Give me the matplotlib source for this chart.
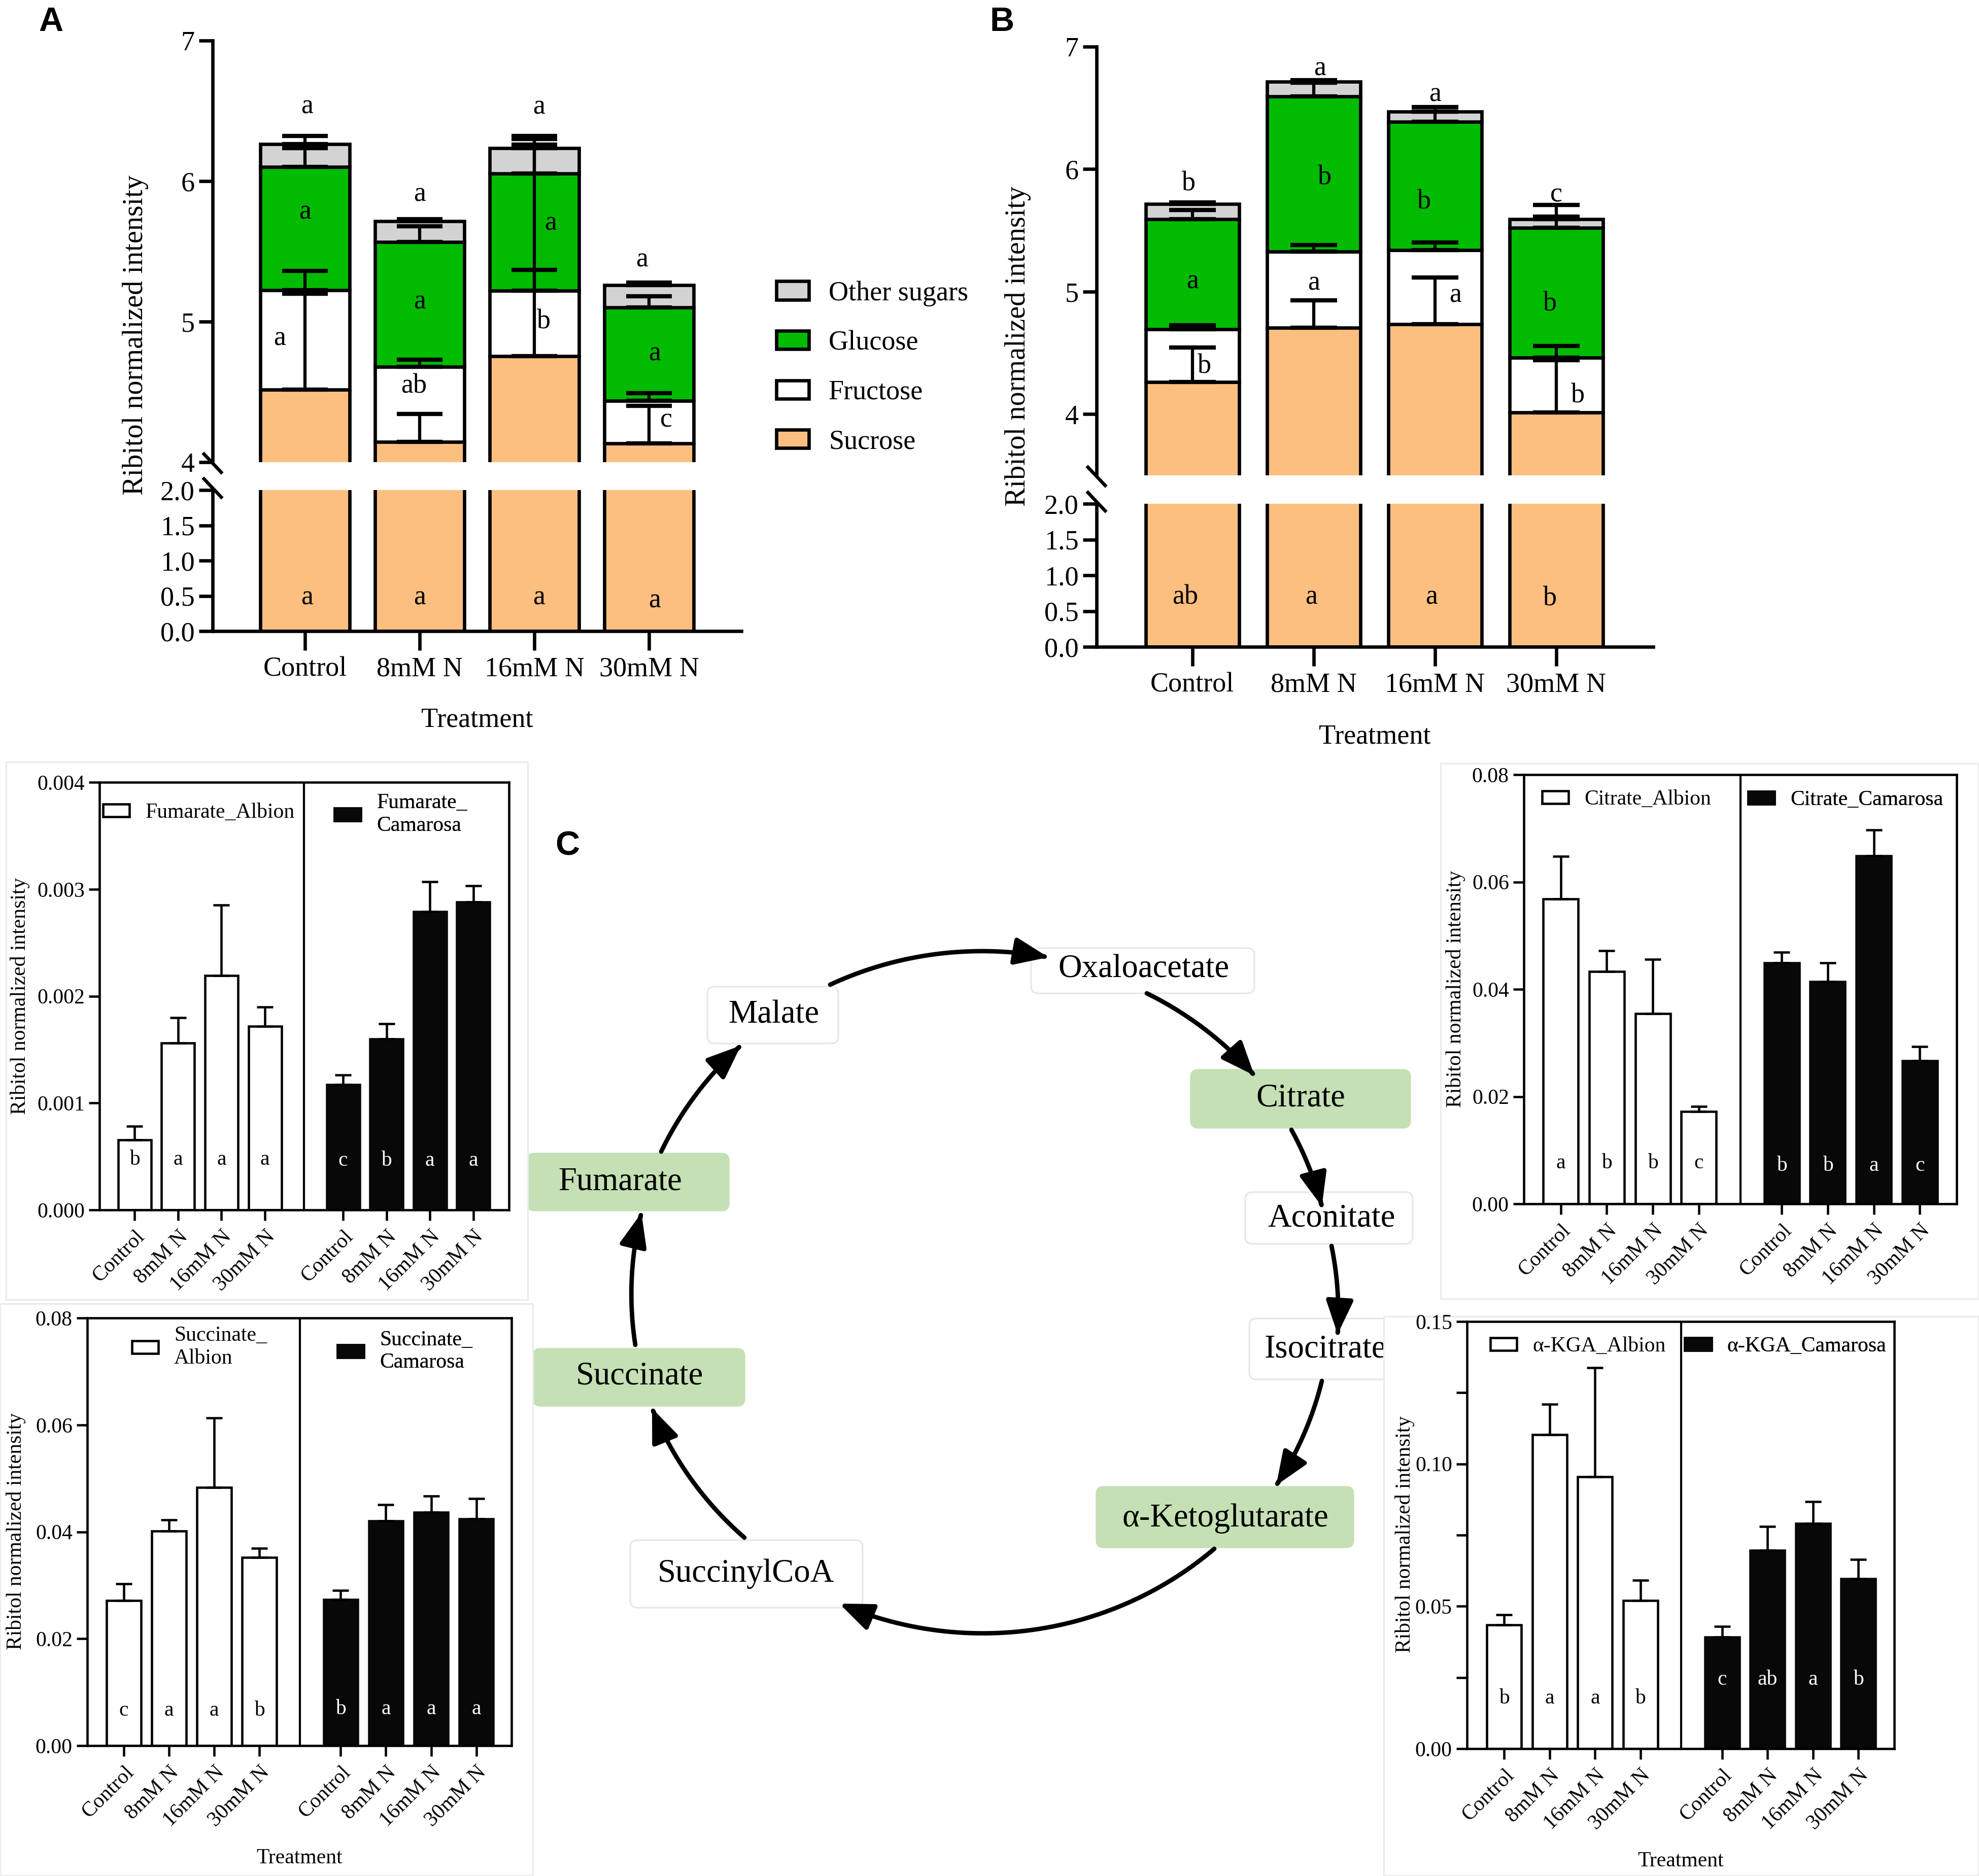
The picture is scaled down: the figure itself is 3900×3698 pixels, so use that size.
import numpy as np
import matplotlib.pyplot as plt
from matplotlib.patches import FancyBboxPatch, FancyArrowPatch, Rectangle, Patch
from matplotlib.path import Path

plt.rcParams['font.family'] = ['Liberation Serif', 'DejaVu Serif']

W, H = 3900, 3698
fig = plt.figure(figsize=(W / 300, H / 300), dpi=300)


def px(x0, y0, x1, y1):
    # pixel box (origin top-left) -> figure rect
    return [x0 / W, 1 - y1 / H, (x1 - x0) / W, (y1 - y0) / H]


treatments = ['Control', '8mM N', '16mM N', '30mM N']
sugar_names = ['Sucrose', 'Fructose', 'Glucose', 'Other sugars']
sugar_colors = ['#fdbf80', 'white', '#00bb00', '#d3d3d3']

# ---- Panel A: segment heights (stacked) and upward SD ----
a_sucrose = [4.516, 4.143, 4.755, 4.133]
a_fructose = [0.709, 0.536, 0.466, 0.304]
a_glucose = [0.875, 0.887, 0.833, 0.663]
a_other = [0.164, 0.149, 0.181, 0.159]
a_sucrose_err = [0.684, 0.20, 0.615, 0.267]
a_fructose_err = [0.135, 0.05, 1.04, 0.053]
a_glucose_err = [0.133, 0.114, 0.246, 0.08]
a_other_err = [0.056, 0.015, 0.085, 0.02]
a_top_let = ['a', 'a', 'a', 'a']
a_glu_let = ['a', 'a', 'a', 'a']
a_fru_let = ['a', 'ab', 'b', 'c']
a_suc_let = ['a', 'a', 'a', 'a']

# ---- Panel B ----
b_sucrose = [4.261, 4.706, 4.735, 4.012]
b_fructose = [0.433, 0.621, 0.604, 0.449]
b_glucose = [0.898, 1.269, 1.049, 1.061]
b_other = [0.122, 0.118, 0.081, 0.070]
b_sucrose_err = [0.282, 0.224, 0.379, 0.428]
b_fructose_err = [0.033, 0.053, 0.061, 0.094]
b_glucose_err = [0.073, 0.11, 0.08, 0.09]
b_other_err = [0.016, 0.013, 0.04, 0.114]
b_top_let = ['b', 'a', 'a', 'c']
b_glu_let = ['a', 'b', 'b', 'b']
b_fru_let = ['b', 'a', 'a', 'b']
b_suc_let = ['ab', 'a', 'a', 'b']

# ---- Panel C bar charts ----
fum_albion = [0.000656, 0.00156, 0.00219, 0.00172]
fum_albion_err = [0.000126, 0.00024, 0.00066, 0.00018]
fum_camarosa = [0.00117, 0.0016, 0.00279, 0.00288]
fum_camarosa_err = [0.00009, 0.00014, 0.00028, 0.00015]
fum_albion_let = ['b', 'a', 'a', 'a']
fum_camarosa_let = ['c', 'b', 'a', 'a']

cit_albion = [0.0568, 0.0433, 0.0355, 0.0172]
cit_albion_err = [0.008, 0.0039, 0.0101, 0.001]
cit_camarosa = [0.0449, 0.0414, 0.0649, 0.0267]
cit_camarosa_err = [0.002, 0.0035, 0.0048, 0.0026]
cit_albion_let = ['a', 'b', 'b', 'c']
cit_camarosa_let = ['b', 'b', 'a', 'c']

suc_albion = [0.0271, 0.0401, 0.0483, 0.0352]
suc_albion_err = [0.0032, 0.0021, 0.013, 0.0017]
suc_camarosa = [0.0273, 0.042, 0.0437, 0.0424]
suc_camarosa_err = [0.0017, 0.0031, 0.003, 0.0038]
suc_albion_let = ['c', 'a', 'a', 'b']
suc_camarosa_let = ['b', 'a', 'a', 'a']

kga_albion = [0.0434, 0.1103, 0.0954, 0.0521]
kga_albion_err = [0.0036, 0.0106, 0.0384, 0.007]
kga_camarosa = [0.0392, 0.0696, 0.0791, 0.0597]
kga_camarosa_err = [0.0038, 0.0085, 0.0077, 0.0067]
kga_albion_let = ['b', 'a', 'a', 'b']
kga_camarosa_let = ['c', 'ab', 'a', 'b']

# TCA cycle nodes
tca_nodes = ['Oxaloacetate', 'Citrate', 'Aconitate', 'Isocitrate', 'α-Ketoglutarate',
             'SuccinylCoA', 'Succinate', 'Fumarate', 'Malate']
tca_measured = [False, True, False, False, True, False, True, True, False]

# ------------------------------------------------------------------
# background layer (diagram, panel letters)
dax = fig.add_axes([0, 0, 1, 1])
dax.set_xlim(0, W)
dax.set_ylim(H, 0)
dax.axis('off')

node_boxes = [(2032, 1869, 2472, 1958), (2347, 2109, 2779, 2223), (2454, 2350, 2784, 2452),
              (2462, 2599, 2790, 2719), (2161, 2931, 2667, 3050), (1242, 3036, 1700, 3169),
              (1051, 2659, 1467, 2771), (1039, 2274, 1436, 2386), (1394, 1945, 1652, 2057)]
node_text = [(2254, 1911), (2563, 2165), (2624, 2402), (2612, 2660), (2415, 2993),
             (1470, 3102), (1260, 2713), (1222, 2330), (1525, 2001)]
for name, hl, (x0, y0, x1, y1), (tx, ty) in zip(tca_nodes, tca_measured, node_boxes, node_text):
    dax.add_patch(FancyBboxPatch((x0, y0), x1 - x0, y1 - y0,
                                 boxstyle='round,pad=0,rounding_size=14',
                                 facecolor='#c5e0b4' if hl else 'white',
                                 edgecolor='#c5e0b4' if hl else '#e8e8e8', linewidth=0.8, zorder=2))
    dax.text(tx, ty, name, ha='center', va='center', fontsize=15.5, zorder=3)

# cycle arrows along an ellipse
cx, cy, rx, ry = 1939, 2547, 690, 670
arcs = [((1636, 1941), (2066, 1887)), ((2260, 1958), (2472, 2120)), ((2545, 2227), (2605, 2378)),
        ((2624, 2456), (2636, 2630)), ((2605, 2722), (2515, 2928)), ((2393, 3053), (1654, 3161)),
        ((1467, 3031), (1285, 2776)), ((1252, 2651), (1264, 2391)), ((1303, 2270), (1460, 2061))]
for (xs, ys), (xe, ye) in arcs:
    t0 = np.arctan2((ys - cy) / ry, (xs - cx) / rx)
    t1 = np.arctan2((ye - cy) / ry, (xe - cx) / rx)
    if t1 < t0:
        t1 += 2 * np.pi
    r0 = np.hypot((xs - cx) / rx, (ys - cy) / ry)
    r1 = np.hypot((xe - cx) / rx, (ye - cy) / ry)
    t = np.linspace(t0, t1, 60)
    r = np.linspace(r0, r1, 60)
    verts = np.column_stack([cx + r * rx * np.cos(t), cy + r * ry * np.sin(t)])
    dax.add_patch(FancyArrowPatch(path=Path(verts), arrowstyle='-|>,head_length=0.42,head_width=0.17',
                                  mutation_scale=32, color='black', linewidth=2.1, zorder=2))

# small-panel image regions (white, faint border)
for (x0, y0, x1, y1) in [(12, 1502, 1040, 2562), (2839, 1505, 3899, 2560),
                         (0, 2570, 1050, 3697), (2727, 2595, 3899, 3697)]:
    dax.add_patch(Rectangle((x0, y0), x1 - x0, y1 - y0, facecolor='white',
                            edgecolor='#ececec', linewidth=0.8, zorder=4))

for lab, (lx, ly) in zip(['A', 'B', 'C'], [(100, 44), (1975, 44), (1118, 1668)]):
    dax.text(lx, ly, lab, ha='center', va='center', fontsize=16, fontweight='bold',
             family='Liberation Sans', zorder=5)


# ------------------------------------------------------------------
def sugar_panel(up_px, lo_px, segs, errs, up_lim, xl, width, cap, lets, let_pos, break_px, ylab_px):
    ax_up = fig.add_axes(px(*up_px))
    ax_lo = fig.add_axes(px(*lo_px))
    x = np.arange(4)
    for ax in (ax_up, ax_lo):
        ax.set_facecolor('none')
        bottom = np.zeros(4)
        for vals, col, name in zip(segs, sugar_colors, sugar_names):
            ax.bar(x, vals, width, bottom=bottom, color=col, edgecolor='black',
                   linewidth=1.6, label=name, zorder=2)
            bottom = bottom + np.asarray(vals)
        bottom = np.zeros(4)
        for vals, err in zip(segs, errs):
            top = bottom + np.asarray(vals)
            ax.errorbar(x, top, yerr=[np.zeros(4), err], fmt='none', ecolor='black',
                        elinewidth=1.5, capsize=cap, capthick=2.0, zorder=3)
            bottom = top
        ax.set_xlim(*xl)
        ax.spines[['top', 'right']].set_visible(False)
        for s in ax.spines.values():
            s.set_linewidth(1.6)
        ax.tick_params(axis='y', direction='out', length=6.5, width=1.6, labelsize=13, pad=2)
    ax_up.set_ylim(*up_lim)
    ax_up.spines['bottom'].set_visible(False)
    ax_up.tick_params(axis='x', bottom=False, labelbottom=False)
    ticks = list(range(4, 8))
    ax_up.set_yticks(ticks, labels=[str(v) for v in ticks])
    ax_lo.set_ylim(0, 2)
    lo_ticks = [0, 0.5, 1.0, 1.5, 2.0]
    ax_lo.set_yticks(lo_ticks, labels=['%.1f' % v for v in lo_ticks])
    ax_lo.set_xticks(x, labels=treatments)
    ax_lo.tick_params(axis='x', direction='out', length=9, width=1.6, labelsize=13, pad=3)
    ax_lo.set_xlabel('Treatment', fontsize=13)
    ax_lo.xaxis.set_label_coords(0.5, -0.54)

    # significance letters
    for group, (axx, pos) in zip(lets, zip([ax_up, ax_up, ax_up, ax_lo], let_pos)):
        for i, (let, (dx, yy)) in enumerate(zip(group, pos)):
            axx.text(i + dx, yy, let, ha='center', va='center', fontsize=13, zorder=4)

    # axis break marks
    bx, by0, by1 = break_px
    for yy in (by0, by1):
        dax.plot([bx - 17, bx + 17], [yy - 18, yy + 18], color='black', lw=1.6, zorder=6)
    fig.text(ylab_px[0] / W, 1 - ylab_px[1] / H, 'Ribitol normalized intensity',
             rotation=90, ha='center', va='center', fontsize=13.5)
    return ax_up, ax_lo


a_segs = [a_sucrose, a_fructose, a_glucose, a_other]
a_errs = [a_sucrose_err, a_fructose_err, a_glucose_err, a_other_err]
a_let_pos = [[(0.02, 6.53), (0, 5.905), (0.04, 6.527), (-0.06, 5.44)],
             [(0, 5.78), (0, 5.14), (0.14, 5.70), (0.05, 4.77)],
             [(-0.22, 4.88), (-0.05, 4.54), (0.08, 5.0), (0.15, 4.30)],
             [(0.02, 0.47), (0, 0.47), (0.04, 0.47), (0.05, 0.43)]]
ax_a_up, ax_a_lo = sugar_panel((419, 80, 1461, 911), (419, 966, 1461, 1244), a_segs, a_errs,
                               (4, 7), (-0.805, 3.805), 0.78, 10.8,
                               [a_top_let, a_glu_let, a_fru_let, a_suc_let], a_let_pos,
                               (419, 913, 962), (267, 660))

b_segs = [b_sucrose, b_fructose, b_glucose, b_other]
b_errs = [b_sucrose_err, b_fructose_err, b_glucose_err, b_other_err]
b_let_pos = [[(-0.03, 5.88), (0.05, 6.82), (0, 6.61), (0, 5.79)],
             [(0, 5.08), (0.09, 5.93), (-0.09, 5.73), (-0.05, 4.90)],
             [(0.10, 4.39), (0, 5.07), (0.17, 4.97), (0.18, 4.15)],
             [(-0.06, 0.69), (-0.02, 0.69), (-0.03, 0.69), (-0.05, 0.67)]]
ax_b_up, ax_b_lo = sugar_panel((2161, 92, 3258, 937), (2161, 993, 3258, 1275), b_segs, b_errs,
                               (3.5, 7), (-0.79, 3.80), 0.77, 11,
                               [b_top_let, b_glu_let, b_fru_let, b_suc_let], b_let_pos,
                               (2161, 939, 989), (2006, 682))

leg_handles = [Patch(facecolor=c, edgecolor='black', linewidth=1.6, label=n)
               for n, c in zip(sugar_names[::-1], sugar_colors[::-1])]
ax_a_up.legend(handles=leg_handles, loc='upper left', bbox_to_anchor=(1530 / W, 1 - 553 / H),
               bbox_transform=fig.transFigure, frameon=False, fontsize=13,
               handlelength=1.18, handleheight=0.65, handletextpad=0.72,
               labelspacing=0.87, borderpad=0, borderaxespad=0)


# ------------------------------------------------------------------
def tca_panel(box_px, alb, alb_err, cam, cam_err, alb_let, cam_let, labels, yticks, fmt,
              xl, let_y, leg_pos, ylab_px, xlabel=False, minor=None, cap=3.8):
    ax = fig.add_axes(px(*box_px))
    ax.set_facecolor('none')
    xa = np.arange(4)
    xc = xa + 4.8
    b1 = ax.bar(xa, alb, 0.76, color='white', edgecolor='black', linewidth=1.1,
                label=labels[0], zorder=2)
    b2 = ax.bar(xc, cam, 0.76, color='#080808', edgecolor='#080808', linewidth=1.1,
                label=labels[1], zorder=2)
    ax.errorbar(xa, alb, yerr=[np.zeros(4), alb_err], fmt='none', ecolor='black',
                elinewidth=1.1, capsize=cap, capthick=1.1, zorder=3)
    ax.errorbar(xc, cam, yerr=[np.zeros(4), cam_err], fmt='none', ecolor='black',
                elinewidth=1.1, capsize=cap, capthick=1.1, zorder=3)
    ax.axvline(3.9, color='black', lw=1.0, zorder=1)
    for i in range(4):
        ax.text(xa[i], let_y[0], alb_let[i], ha='center', va='center', fontsize=10, zorder=4)
        ax.text(xc[i], let_y[1], cam_let[i], ha='center', va='center', fontsize=10,
                color='white', zorder=4)
    ax.set_xlim(*xl)
    ax.set_ylim(yticks[0], yticks[-1])
    ax.set_yticks(yticks, labels=[fmt % v for v in yticks])
    if minor is not None:
        ax.set_yticks(minor, minor=True)
    ax.set_xticks(np.r_[xa, xc], labels=treatments * 2, rotation=45, ha='right',
                  rotation_mode='anchor')
    for s in ax.spines.values():
        s.set_linewidth(1.1)
    ax.tick_params(which='both', direction='out', length=5, width=1.1, labelsize=10, pad=2)
    ax.tick_params(axis='x', pad=3)
    for h, pos in zip([b1, b2], leg_pos):
        leg = ax.legend(handles=[h], loc='center left', bbox_to_anchor=pos, frameon=False,
                        fontsize=10, handlelength=1.25, handleheight=0.55, handletextpad=0.75,
                        borderpad=0, borderaxespad=0)
        ax.add_artist(leg)
    if xlabel:
        ax.set_xlabel('Treatment', fontsize=10)
        ax.xaxis.set_label_coords(0.5, -0.24)
    fig.text(ylab_px[0] / W, 1 - ylab_px[1] / H, 'Ribitol normalized intensity',
             rotation=90, ha='center', va='center', fontsize=10)
    return ax


tca_panel((196, 1542, 1003, 2385), fum_albion, fum_albion_err, fum_camarosa, fum_camarosa_err,
          fum_albion_let, fum_camarosa_let, ['Fumarate_Albion', 'Fumarate_\nCamarosa'],
          [0, 0.001, 0.002, 0.003, 0.004], '%.3f', (-0.81, 8.62), (0.00047, 0.00046),
          [(0.009, 0.929), (0.574, 0.925)], (40, 1963))

tca_panel((3003, 1527, 3856, 2373), cit_albion, cit_albion_err, cit_camarosa, cit_camarosa_err,
          cit_albion_let, cit_camarosa_let, ['Citrate_Albion', 'Citrate_Camarosa'],
          [0, 0.02, 0.04, 0.06, 0.08], '%.2f', (-0.8, 8.6), (0.0076, 0.0071),
          [(0.042, 0.942), (0.518, 0.941)], (2868, 1949))

tca_panel((172, 2598, 1008, 3441), suc_albion, suc_albion_err, suc_camarosa, suc_camarosa_err,
          suc_albion_let, suc_camarosa_let, ['Succinate_\nAlbion', 'Succinate_\nCamarosa'],
          [0, 0.02, 0.04, 0.06, 0.08], '%.2f', (-0.81, 8.58), (0.0066, 0.0069),
          [(0.105, 0.932), (0.59, 0.922)], (32, 3018), xlabel=True)

tca_panel((2891, 2605, 3733, 3447), kga_albion, kga_albion_err, kga_camarosa, kga_camarosa_err,
          kga_albion_let, kga_camarosa_let, ['α-KGA_Albion', 'α-KGA_Camarosa'],
          [0, 0.05, 0.10, 0.15], '%.2f', (-0.82, 8.59), (0.0176, 0.0243),
          [(0.055, 0.942), (0.51, 0.942)], (2768, 3024), xlabel=True,
          minor=[0.025, 0.075, 0.125])

fig.savefig('out.png', dpi=300, facecolor='white')
